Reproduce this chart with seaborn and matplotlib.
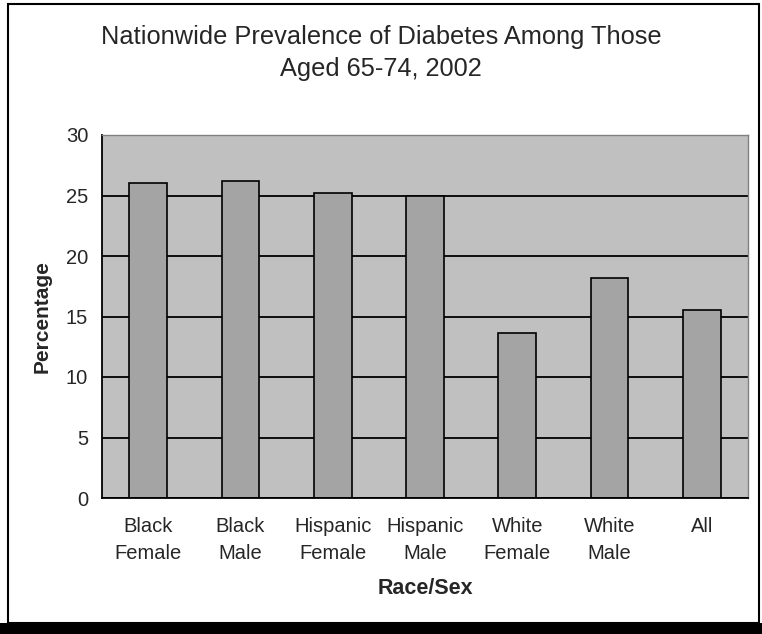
import matplotlib
matplotlib.use("Agg")
import matplotlib.pyplot as plt
import matplotlib.patches as mpatches
from matplotlib.ticker import FixedLocator
import pandas as pd
import seaborn as sns

groups = ["Black\nFemale", "Black\nMale", "Hispanic\nFemale", "Hispanic\nMale",
          "White\nFemale", "White\nMale", "All"]
percentages = [26.0, 26.2, 25.2, 25.0, 13.6, 18.2, 15.5]
y_ticks = [0, 5, 10, 15, 20, 25, 30]

sns.set_style("white")
plt.rcParams["font.family"] = ["Liberation Sans", "DejaVu Sans"]

df = pd.DataFrame({"Race/Sex": groups, "Percentage": percentages})

fig = plt.figure(figsize=(7.62, 6.34), dpi=100)
ax = fig.add_axes([102 / 762, 1 - 498 / 634, 646 / 762, 363 / 634])
ax.set_facecolor("#c0c0c0")
ax.set_axisbelow(True)

sns.barplot(data=df, x="Race/Sex", y="Percentage", color="#a4a4a4",
            edgecolor="black", linewidth=1.2, width=0.41, saturation=1, ax=ax)

ax.set_ylim(0, 30)
ax.set_xlim(-0.5, len(groups) - 0.5)
ax.set_yticks(y_ticks)
ax.yaxis.grid(True, color="black", linewidth=1.3)
ax.xaxis.grid(False)

ax.xaxis.set_minor_locator(FixedLocator([i - 0.5 for i in range(len(groups) + 1)]))
ax.tick_params(axis="x", which="major", length=0, pad=14, labelsize=14.5)
ax.tick_params(axis="x", which="minor", length=6, width=1.2, color="black", direction="out")
ax.tick_params(axis="y", length=6, width=1.2, color="black", direction="out", pad=4, labelsize=14.5)
for lbl in ax.get_xticklabels():
    lbl.set_linespacing(1.5)

for side in ["left", "bottom"]:
    ax.spines[side].set_color("black")
    ax.spines[side].set_linewidth(1.3)
for side in ["top", "right"]:
    ax.spines[side].set_color("#808080")
    ax.spines[side].set_linewidth(1.0)

ax.set_xlabel("Race/Sex", fontsize=15.5, fontweight="bold", labelpad=11)
ax.set_ylabel("Percentage", fontsize=15, fontweight="bold", labelpad=10)

fig.text(0.5, 1 - 53 / 634, "Nationwide Prevalence of Diabetes Among Those\nAged 65-74, 2002",
         ha="center", va="center", fontsize=18.3, linespacing=1.4)

# outer frame and black strip at the bottom, like the original export
fig.patches.append(mpatches.Rectangle((8 / 762, 11 / 634), 751 / 762, 619 / 634,
                                      transform=fig.transFigure, fill=False,
                                      edgecolor="black", linewidth=1.5))
fig.patches.append(mpatches.Rectangle((0, 0), 1, 11 / 634, transform=fig.transFigure,
                                      facecolor="black", edgecolor="none"))

fig.savefig("out.png", dpi=100)
